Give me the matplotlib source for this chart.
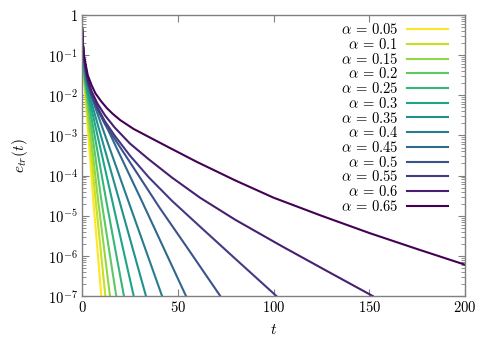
import numpy as np
import matplotlib
matplotlib.use("Agg")
import matplotlib.pyplot as plt

plt.rcParams['mathtext.fontset'] = 'cm'
plt.rcParams['font.family'] = ['DejaVu Serif']

alphas = [0.05, 0.1, 0.15, 0.2, 0.25, 0.3, 0.35, 0.4, 0.45, 0.5, 0.55, 0.6, 0.65]

# (t, log10 e_tr) for each alpha
t_pts = [
    [0, 0.5, 1, 1.5, 3.0, 5.9, 10.1],
    [0, 0.5, 1, 1.7, 7.1, 12.2],
    [0, 0.5, 1, 1.9, 8.4, 14.6],
    [0, 0.5, 1, 2.2, 10.1, 17.9],
    [0, 0.5, 1, 1.6, 2.5, 12.6, 21.9],
    [0, 0.5, 1, 1.8, 2.9, 15.7, 27.0],
    [0, 0.5, 1, 2.0, 3.3, 19.4, 33.4],
    [0, 0.5, 1, 2.2, 3.8, 8.0, 24.0, 41.8],
    [0, 0.5, 1, 2.4, 4.3, 9.0, 31.0, 54.3],
    [0, 0.5, 1, 3, 5, 8, 12, 20, 30, 40.5, 55, 72.2],
    [0, 0.5, 1, 3, 5, 8, 12, 17, 25, 35, 47, 61.6, 80, 101.5],
    [0, 0.5, 1, 3, 5, 8, 12, 17, 25, 35, 47, 61.6, 80, 104, 128, 151.8],
    [0, 0.5, 1, 3, 5, 7, 10, 13, 16, 20, 27, 35, 45, 60, 80, 100, 125, 150, 175, 200],
]
log_pts = [
    [-0.30, -0.75, -1.55, -1.87, -2.80, -4.61, -7.0],
    [-0.30, -0.75, -1.48, -1.87, -4.61, -7.0],
    [-0.30, -0.75, -1.42, -1.87, -4.61, -7.0],
    [-0.30, -0.75, -1.37, -1.87, -4.61, -7.0],
    [-0.30, -0.75, -1.32, -1.62, -1.90, -4.61, -7.0],
    [-0.30, -0.75, -1.27, -1.62, -1.90, -4.61, -7.0],
    [-0.30, -0.75, -1.22, -1.60, -1.90, -4.61, -7.0],
    [-0.30, -0.75, -1.18, -1.58, -1.88, -2.45, -4.61, -7.0],
    [-0.30, -0.75, -1.14, -1.57, -1.88, -2.40, -4.61, -7.0],
    [-0.30, -0.75, -1.10, -1.68, -2.00, -2.35, -2.72, -3.30, -4.03, -4.80, -5.80, -7.0],
    [-0.30, -0.75, -1.08, -1.65, -1.97, -2.30, -2.65, -3.00, -3.50, -4.05, -4.63, -5.27, -6.07, -7.0],
    [-0.30, -0.75, -1.05, -1.60, -1.90, -2.20, -2.50, -2.80, -3.20, -3.60, -4.05, -4.55, -5.10, -5.75, -6.38, -7.0],
    [-0.30, -0.75, -1.00, -1.50, -1.75, -1.95, -2.15, -2.32, -2.46, -2.62, -2.84, -3.04, -3.29, -3.66, -4.12, -4.55, -5.00, -5.43, -5.83, -6.22],
]

x_ticks = [0, 50, 100, 150, 200]
y_ticks = [1e-7, 1e-6, 1e-5, 1e-4, 1e-3, 1e-2, 1e-1, 1]
y_ticklabels = [r'$10^{-7}$', r'$10^{-6}$', r'$10^{-5}$', r'$10^{-4}$',
                r'$10^{-3}$', r'$10^{-2}$', r'$10^{-1}$', r'$1$']

colors = plt.cm.viridis(np.linspace(1, 0, len(alphas)))

fig = plt.figure(figsize=(4.93, 3.45), dpi=100)
ax = fig.add_axes([82 / 493, 1 - 296 / 345, 383 / 493, 281 / 345])

for a, t, lg, c in zip(alphas, t_pts, log_pts, colors):
    ax.plot(t, 10.0 ** np.array(lg), color=c, lw=1.5, label=r'$\alpha\,=\,%s$' % a)

ax.set_yscale('log')
ax.set_xlim(0, 200)
ax.set_ylim(1e-7, 1)
ax.set_xticks(x_ticks)
ax.set_xticklabels([r'$%d$' % v for v in x_ticks])
ax.set_yticks(y_ticks)
ax.set_yticklabels(y_ticklabels)

gray = '#808080'
for s in ax.spines.values():
    s.set_color(gray)
    s.set_linewidth(1.0)
ax.tick_params(which='both', direction='in', top=True, right=True, color=gray,
               labelsize=10.5, labelcolor='black')
ax.tick_params(which='major', length=5, width=0.8, pad=3)
ax.tick_params(which='minor', length=3, width=0.6)
ax.tick_params(axis='x', which='minor', bottom=False, top=False)

ax.set_xlabel(r'$t$', fontsize=11, labelpad=6)
ax.set_ylabel(r'$e_{tr}(t)$', fontsize=11, labelpad=13)

ax.legend(loc='upper right', bbox_to_anchor=(0.956, 0.974), markerfirst=False,
          frameon=False, fontsize=10.5, handlelength=2.8, handletextpad=0.65,
          labelspacing=-0.02, borderpad=0, borderaxespad=0)

fig.savefig('out.png', dpi=100)
